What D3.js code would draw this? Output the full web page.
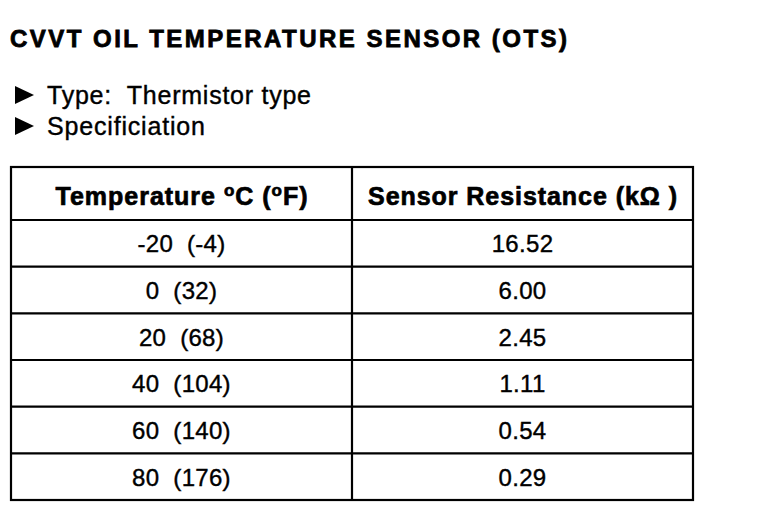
<!DOCTYPE html>
<html>
<head>
<meta charset="utf-8">
<script src="https://cdn.jsdelivr.net/npm/d3@7"></script>
<style>
  body { margin: 0; background: #fff; }
  svg { display: block; }
</style>
</head>
<body>
<svg id="chart" width="768" height="532"></svg>
<script>
const titleText = "CVVT OIL TEMPERATURE SENSOR (OTS)";
const bullets = ["Type:  Thermistor type", "Specificiation"];
const tempC = [-20, 0, 20, 40, 60, 80];
const tempF = [-4, 32, 68, 104, 140, 176];
const resistance = ["16.52", "6.00", "2.45", "1.11", "0.54", "0.29"];
const columns = ["temp", "res"];

const svg = d3.select("#chart");
const font = "'Liberation Sans', Arial, Helvetica, sans-serif";

// title
svg.append("text")
    .attr("x", 10)
    .attr("y", 47)
    .attr("font-family", font)
    .attr("font-weight", "bold")
    .attr("font-size", 24)
    .attr("textLength", 557)
    .attr("lengthAdjust", "spacing")
    .attr("stroke", "#000")
    .attr("stroke-width", 0.8)
    .text(titleText);

// bullet list
const bulletWidths = [264, 158];
const bulletG = svg.append("g");
bullets.forEach((b, i) => {
    const y = 104 + i * 31;
    bulletG.append("path")
        .attr("d", `M15,${y - 18}L34,${y - 9}L15,${y}Z`)
        .attr("fill", "#000");
    bulletG.append("text")
        .attr("x", 47)
        .attr("y", y)
        .attr("font-family", font)
        .attr("font-size", 25)
        .attr("textLength", bulletWidths[i])
        .attr("lengthAdjust", "spacing")
        .attr("stroke", "#000")
        .attr("stroke-width", 0.4)
        .style("white-space", "pre")
        .text(b);
});

// table scales
const x = d3.scaleBand().domain(columns).range([11, 693]);
const headerTop = 167, headerBottom = 220, tableBottom = 500;
const y = d3.scaleBand().domain(d3.range(tempC.length)).range([headerBottom, tableBottom]);

const table = svg.append("g")
    .attr("stroke", "#000")
    .attr("stroke-width", 2.2)
    .attr("fill", "none");

table.append("rect")
    .attr("x", x.range()[0])
    .attr("y", headerTop)
    .attr("width", x.range()[1] - x.range()[0])
    .attr("height", tableBottom - headerTop);

table.append("line")
    .attr("x1", x("res")).attr("x2", x("res"))
    .attr("y1", headerTop).attr("y2", tableBottom);

table.selectAll(".row-line")
    .data(d3.range(tempC.length))
    .join("line")
    .attr("class", "row-line")
    .attr("x1", x.range()[0]).attr("x2", x.range()[1])
    .attr("y1", d => y(d)).attr("y2", d => y(d));

// header
const header = svg.append("g")
    .attr("font-family", font)
    .attr("font-weight", "bold")
    .attr("font-size", 25)
    .attr("stroke", "#000")
    .attr("stroke-width", 0.7)
    .attr("text-anchor", "middle");

const h1 = header.append("text")
    .attr("x", x("temp") + x.bandwidth() / 2)
    .attr("y", 205)
    .attr("textLength", 252)
    .attr("lengthAdjust", "spacing");
h1.append("tspan").text("Temperature ");
h1.append("tspan").attr("font-size", 17).attr("dy", -9).text("o");
h1.append("tspan").attr("dy", 9).text("C (");
h1.append("tspan").attr("font-size", 17).attr("dy", -9).text("o");
h1.append("tspan").attr("dy", 9).text("F)");

header.append("text")
    .attr("x", x("res") + x.bandwidth() / 2)
    .attr("y", 205)
    .attr("textLength", 309)
    .attr("lengthAdjust", "spacing")
    .text("Sensor Resistance (k\u03A9 )");

// rows
const body = svg.append("g")
    .attr("font-family", font)
    .attr("font-size", 24)
    .attr("letter-spacing", 0.3)
    .attr("stroke", "#000")
    .attr("stroke-width", 0.4)
    .attr("text-anchor", "middle");

body.selectAll(".temp")
    .data(tempC)
    .join("text")
    .attr("class", "temp")
    .attr("x", x("temp") + x.bandwidth() / 2)
    .attr("y", (d, i) => y(i) + y.bandwidth() / 2 + 9)
    .style("white-space", "pre")
    .text((d, i) => `${d}  (${tempF[i]})`);

body.selectAll(".res")
    .data(resistance)
    .join("text")
    .attr("class", "res")
    .attr("x", x("res") + x.bandwidth() / 2)
    .attr("y", (d, i) => y(i) + y.bandwidth() / 2 + 9)
    .text(d => d);
</script>
</body>
</html>
